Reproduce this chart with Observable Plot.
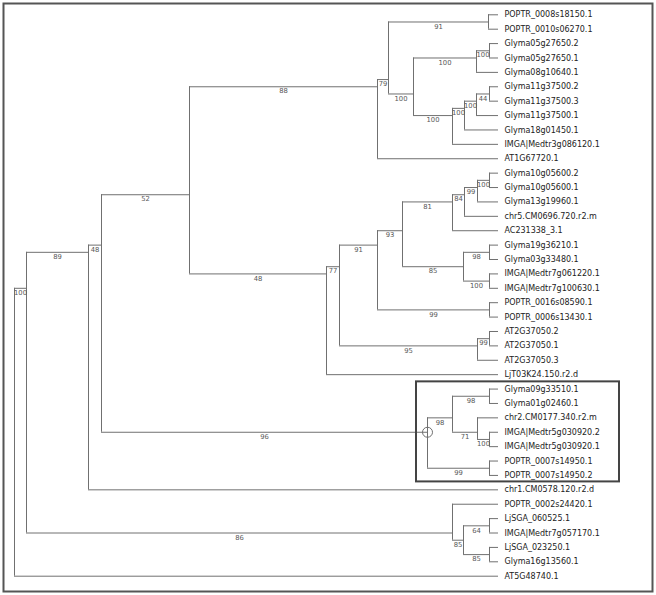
<!DOCTYPE html>
<html>
<head>
<meta charset="utf-8">
<script src="https://cdn.jsdelivr.net/npm/d3@7"></script>
<script src="https://cdn.jsdelivr.net/npm/@observablehq/plot@0.6"></script>
<style>
  html, body { margin: 0; padding: 0; background: #fff; overflow: hidden; }
  svg { display: block; }
</style>
</head>
<body>
<div id="chart"></div>
<script>
// Internal nodes: id, parent, distance from root, bootstrap support
const nodeIds     = ["root","R1","R2","R3","R4","A","B","P1","C","D","D1","E","E1","E2","E3","R5","R6","R7","R8","R9","R11","R12","R13","R10","R14","R15","P2","R16","R17","Bx","F","F1","F2","F3","P3","G","G1","G2","G3"];
const nodeParents = [null,"root","R1","R2","R3","R4","A","B","B","C","D","C","E","E1","E2","R4","R5","R6","R7","R8","R9","R11","R12","R8","R10","R10","R7","R6","R16","R3","Bx","F","F","F2","Bx","R1","G","G1","G1"];
const nodeDepths  = [0,12,74,87,175,363,374,474,399,462,475,438,450,462,475,312,325,363,388,438,450,463,475,449,475,475,475,463,475,413,438,475,463,475,475,438,449,475,475];
const nodeSupport = [null,100,89,48,52,88,79,91,100,100,100,100,100,100,44,48,77,91,93,81,84,99,100,85,98,100,99,95,99,96,98,98,71,100,99,86,85,64,85];

// Leaves, top to bottom, and the node each hangs from
const leafNames = ["POPTR_0008s18150.1","POPTR_0010s06270.1","Glyma05g27650.2","Glyma05g27650.1","Glyma08g10640.1","Glyma11g37500.2","Glyma11g37500.3","Glyma11g37500.1","Glyma18g01450.1","IMGA|Medtr3g086120.1","AT1G67720.1","Glyma10g05600.2","Glyma10g05600.1","Glyma13g19960.1","chr5.CM0696.720.r2.m","AC231338_3.1","Glyma19g36210.1","Glyma03g33480.1","IMGA|Medtr7g061220.1","IMGA|Medtr7g100630.1","POPTR_0016s08590.1","POPTR_0006s13430.1","AT2G37050.2","AT2G37050.1","AT2G37050.3","LjT03K24.150.r2.d","Glyma09g33510.1","Glyma01g02460.1","chr2.CM0177.340.r2.m","IMGA|Medtr5g030920.2","IMGA|Medtr5g030920.1","POPTR_0007s14950.1","POPTR_0007s14950.2","chr1.CM0578.120.r2.d","POPTR_0002s24420.1","LjSGA_060525.1","IMGA|Medtr7g057170.1","LjSGA_023250.1","Glyma16g13560.1","AT5G48740.1"];
const leafParents = ["P1","P1","D1","D1","D","E3","E3","E2","E1","E","A","R13","R13","R12","R11","R9","R14","R14","R15","R15","P2","P2","R17","R17","R16","R5","F1","F1","F2","F3","F3","P3","P3","R2","G","G2","G2","G3","G3","root"];
const leafDepth = 484;
const highlightedClade = "Bx";

// ---- build tree ----
const nodes = new Map();
nodeIds.forEach((id, i) => nodes.set(id, {id, parent: nodeParents[i], depth: nodeDepths[i], support: nodeSupport[i], children: [], leaf: false}));
const leaves = leafNames.map((name, i) => ({id: name, name, parent: leafParents[i], depth: leafDepth, index: i, leaf: true, children: []}));
for (const n of nodes.values()) if (n.parent) nodes.get(n.parent).children.push(n);
for (const l of leaves) nodes.get(l.parent).children.push(l);
function range(n) {
  if (n.leaf) { n.lo = n.hi = n.index; n.y = n.index; return; }
  n.children.forEach(range);
  n.lo = d3.min(n.children, c => c.lo);
  n.hi = d3.max(n.children, c => c.hi);
  n.y = (n.lo + n.hi) / 2;
}
const root = nodes.get("root");
range(root);
const all = [...nodes.values(), ...leaves];
const branches = all.filter(n => n.parent).map(n => ({x1: nodes.get(n.parent).depth, x2: n.depth, y: n.y}));
const verticals = [...nodes.values()].map(n => ({x: n.depth, y1: d3.min(n.children, c => c.y), y2: d3.max(n.children, c => c.y)}));
const supports = [...nodes.values()].filter(n => n.parent && n.support != null)
  .map(n => ({x: (nodes.get(n.parent).depth + n.depth) / 2, y: n.y, s: n.support}));
const hl = nodes.get(highlightedClade);

const chart = Plot.plot({
  width: 656,
  height: 595,
  margin: 0,
  style: {fontFamily: "DejaVu Sans, Verdana, sans-serif", background: "#fff"},
  x: {domain: [0, leafDepth], range: [14, 498], axis: null},
  y: {domain: [0, leafNames.length - 1], range: [14.3, 575.7], axis: null},
  marks: [
    Plot.frame({stroke: "#555", strokeWidth: 2, insetLeft: 3, insetTop: 3, insetRight: 4, insetBottom: 4}),
    Plot.ruleX(verticals, {x: "x", y1: "y1", y2: "y2", stroke: "#707070", strokeWidth: 1}),
    Plot.ruleY(branches, {y: "y", x1: "x1", x2: "x2", stroke: "#707070", strokeWidth: 1}),
    Plot.text(supports, {x: "x", y: "y", text: d => String(d.s), dy: 4.5, fontSize: 6.8, fill: "#595959"}),
    Plot.text(leaves, {x: "depth", y: "index", text: "name", dx: 6, textAnchor: "start", fontSize: 8, fill: "#222"}),
    Plot.dot([hl], {x: "depth", y: "y", r: 5, stroke: "#707070", fill: "none", strokeWidth: 1}),
    Plot.rect([hl], {x1: d => d.depth - 11, x2: d => d.depth + 192, y1: d => d.lo - 0.5, y2: d => d.hi + 0.45, stroke: "#444", strokeWidth: 2, fill: "none"})
  ]
});
document.getElementById("chart").appendChild(chart);
</script>
</body>
</html>
